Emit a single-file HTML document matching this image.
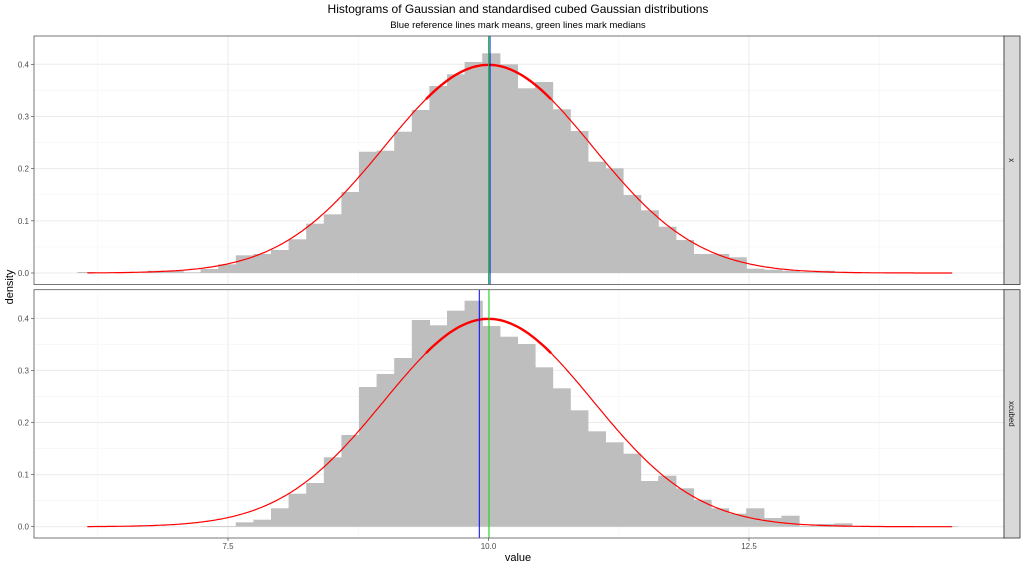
<!DOCTYPE html>
<html><head><meta charset="utf-8"><style>
html,body{margin:0;padding:0;background:#fff;}
svg{display:block;font-family:"Liberation Sans",sans-serif;}
</style></head><body>
<svg id="s" width="1024" height="568" viewBox="0 0 1024 568" xmlns="http://www.w3.org/2000/svg">
<text x="518" y="13" font-size="12" text-anchor="middle" fill="#000">Histograms of Gaussian and standardised cubed Gaussian distributions</text>
<text x="518" y="28" font-size="9.6" text-anchor="middle" fill="#000">Blue reference lines mark means, green lines mark medians</text>
<text transform="translate(13,287) rotate(-90)" font-size="11" text-anchor="middle" fill="#000">density</text>
<text x="518" y="561" font-size="11" text-anchor="middle" fill="#000">value</text>
<g id="g"></g>
</svg>
<script>
var NS="http://www.w3.org/2000/svg",g=document.getElementById('g');
function el(t,a,txt){var e=document.createElementNS(NS,t);for(var k in a)e.setAttribute(k,a[k]);if(txt!==undefined)e.textContent=txt;g.appendChild(e);return e;}
var L=34,R=1004;
function X(v){return 488.5+(v-10)*104.2;}
var topB=[[-16,272],[-12,270.7],[-11,270.7],[-10,272.3],[-9,269],[-8,264.3],[-7,255.3],[-6,254],[-5,250],[-4,239.3],[-3,223.7],[-2,214.3],[-1,192],[0,151.7],[1,150.7],[2,131.7],[3,110],[4,86],[5,74.3],[6,62],[7,53.3],[8,64.3],[9,88.3],[10,82],[11,109.3],[12,131],[13,161.7],[14,168.3],[15,195],[16,210.3],[17,226.7],[18,240],[19,254],[20,254],[21,257.3],[22,268.7],[23,269.7],[24,270.7],[25,272],[26,270.7],[27,272.3]];
var botB=[[-9,526.1],[-8,526.1],[-7,522.3],[-6,519.7],[-5,508.3],[-4,493.7],[-3,483],[-2,457.3],[-1,435],[0,387],[1,374],[2,358],[3,320],[4,325.3],[5,310.7],[6,300.7],[7,326],[8,336.7],[9,344],[10,367.3],[11,388.3],[12,410.3],[13,431.3],[14,442.3],[15,453.7],[16,481],[17,475.7],[18,488.3],[19,499.7],[20,508.3],[21,513.7],[22,508.3],[23,518],[24,515.7],[25,526.1],[26,524],[27,523.3],[28,526.1],[29,526.1],[30,526.1],[31,526.1],[32,526.1],[33,526.1]];
function panel(T,B,base,p4,bars,blue,green,lab){
  el('rect',{x:L,y:T,width:R-L,height:B-T,fill:'#fff'});
  var u=(base-p4)/4;
  [6.25,8.75,11.25,13.75].forEach(function(v){el('line',{x1:X(v),x2:X(v),y1:T,y2:B,stroke:'#f4f4f4','stroke-width':0.6});});
  for(var i=0;i<4;i++){var y=base-(i+0.5)*u;el('line',{x1:L,x2:R,y1:y,y2:y,stroke:'#f4f4f4','stroke-width':0.6});}
  [7.5,10,12.5].forEach(function(v){el('line',{x1:X(v),x2:X(v),y1:T,y2:B,stroke:'#ebebeb','stroke-width':1});});
  for(var i=0;i<=4;i++){var y=base-i*u;el('line',{x1:L,x2:R,y1:y,y2:y,stroke:'#ebebeb','stroke-width':1});
    el('text',{x:29,y:y+3,'font-size':8,'text-anchor':'end',fill:'#4d4d4d'},(i/10).toFixed(1));
    el('line',{x1:31,x2:L,y1:y,y2:y,stroke:'#333','stroke-width':0.6});}
  bars.forEach(function(b){var x0=359.3+17.6*b[0];el('rect',{x:x0-0.3,y:b[1],width:18.2,height:base-b[1],fill:'#bebebe'});});
  var d='';for(var v=6.15;v<=14.45;v+=0.02){var y=base-Math.exp(-(v-10)*(v-10)/2)/Math.sqrt(2*Math.PI)*10*u;d+=(d?'L':'M')+X(v).toFixed(1)+' '+y.toFixed(1);}
  el('path',{d:d,fill:'none',stroke:'#ff0000','stroke-width':1.2});
  var d2='';for(var v=9.4;v<=10.6;v+=0.02){var y=base-Math.exp(-(v-10)*(v-10)/2)/Math.sqrt(2*Math.PI)*10*u;d2+=(d2?'L':'M')+X(v).toFixed(1)+' '+y.toFixed(1);}
  el('path',{d:d2,fill:'none',stroke:'#ff0000','stroke-width':2.4});
  el('line',{x1:green,x2:green,y1:T,y2:B,stroke:'#00dd00','stroke-width':1});
  el('line',{x1:blue,x2:blue,y1:T,y2:B,stroke:'#0000ff','stroke-width':1});
  el('rect',{x:L,y:T,width:R-L,height:B-T,fill:'none',stroke:'#555','stroke-width':0.8});
  el('rect',{x:R,y:T,width:16,height:B-T,fill:'#d9d9d9',stroke:'#333','stroke-width':0.8});
  var cy=(T+B)/2;el('text',{transform:'translate('+(R+5)+','+cy+') rotate(90)','font-size':8,'text-anchor':'middle',fill:'#1a1a1a'},lab);
}
panel(36,284.5,273,64.3,topB,490,488.5,'x');
panel(289.7,538,526.7,318.3,botB,479.3,489,'xcubed');
[7.5,10,12.5].forEach(function(v){el('line',{x1:X(v),x2:X(v),y1:538,y2:541,stroke:'#333','stroke-width':0.6});
  el('text',{x:X(v),y:549,'font-size':8,'text-anchor':'middle',fill:'#4d4d4d'},v.toFixed(1));});
</script>
</body></html>
